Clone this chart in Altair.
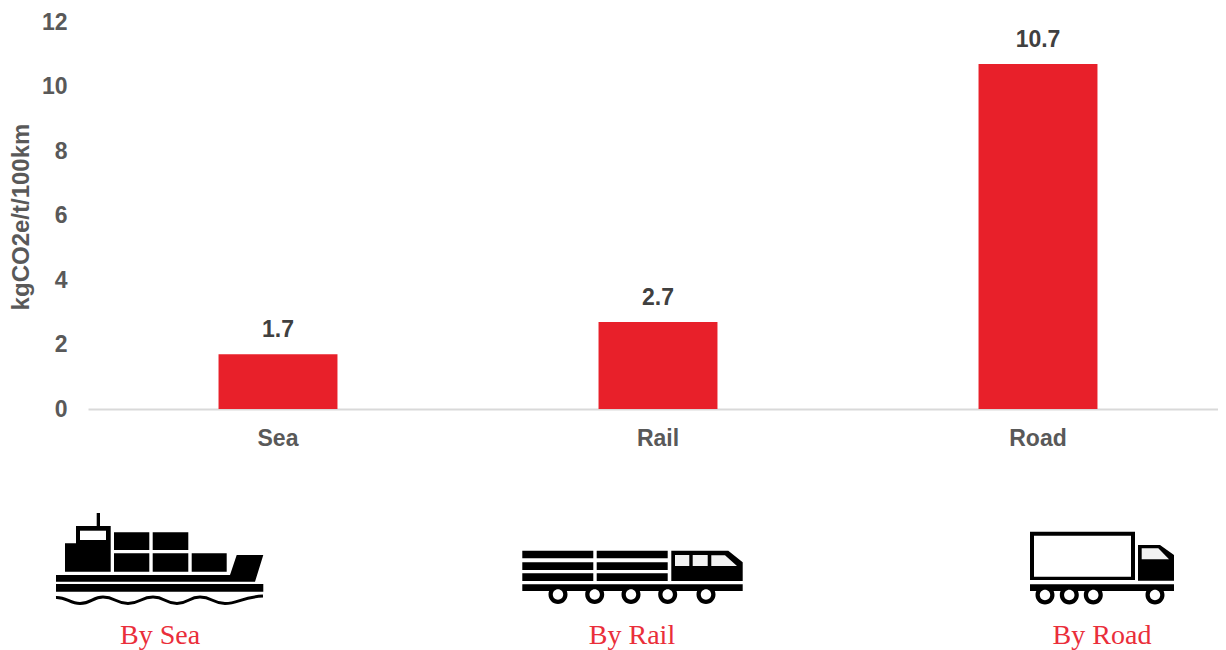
import altair as alt
import pandas as pd

categories = ["Sea", "Rail", "Road"]
values = [1.7, 2.7, 10.7]
captions = ["By Sea", "By Rail", "By Road"]
caption_x = [160, 632, 1102]

RED = "#e8202a"
SANS = "Liberation Sans"
SERIF = "Liberation Serif"
OX, OY = 88, 22  # plot origin in page pixels


def rect(x0, y0, x1, y1):
    return f"M{x0},{y0}L{x1},{y0}L{x1},{y1}L{x0},{y1}Z"


def poly(*pts):
    return "M" + "L".join(f"{x},{y}" for x, y in pts) + "Z"


def circle(cx, cy, r):
    return f"M{cx - r},{cy}A{r},{r} 0 1 1 {cx + r},{cy}A{r},{r} 0 1 1 {cx - r},{cy}Z"


ship_black = "".join([
    rect(96.7, 513, 100, 527),
    rect(76, 526, 110.7, 571.7),
    rect(65, 543.3, 76.5, 571.7),
    rect(114, 532.3, 149.3, 550),
    rect(152.7, 532.3, 188.3, 550),
    rect(114, 553.3, 149.3, 571.7),
    rect(152.7, 553.3, 188.3, 571.7),
    rect(191.7, 553.3, 226.7, 571.7),
    poly((236.7, 555), (263.3, 555), (255, 581.7), (56, 581.7), (56, 575), (230, 575)),
    rect(56, 584, 263.3, 591.7),
])
ship_white = rect(80, 530.7, 106, 540)
ship_wave = (
    "M56,597.5C66,597 70,603.5 80,603.5C91,603.5 93,597 103,597"
    "C115,597 116,603.5 128,603.5C140,603.5 141,597 153,597"
    "C165,597 165,603.5 177,603.5C188,603.5 189,597 200,597"
    "C212,597 213,603.5 225,603.5C238,603.5 242,597 263,596"
)

rail_wheels = [558, 594.7, 631, 667.7, 706]
rail_black = "".join(
    [rect(a, y0, b, y1)
     for a, b in [(522.3, 593.3), (596.7, 667.7)]
     for y0, y1 in [(550.7, 558.3), (562.3, 570), (573.3, 581)]]
    + [rect(522.3, 584.3, 742.7, 591),
       poly((671.3, 550.7), (728.3, 550.7), (742.7, 562.3), (742.7, 581), (671.3, 581))]
    + [circle(x, 594.5, 9.5) for x in rail_wheels]
)
rail_white = "".join(circle(x, 594.5, 5.2) for x in rail_wheels)
rail_glass = "".join([
    rect(675, 555, 689.3, 566),
    rect(692.7, 555, 707.7, 566),
    poly((711.3, 555.3), (725, 555.3), (737, 566), (711.3, 566)),
])

truck_wheels = [1045, 1069.3, 1093.3, 1155]
truck_black = "".join(
    [rect(1030, 531.7, 1135, 580),
     poly((1138, 545), (1160, 545), (1174, 555), (1174, 580.7), (1138, 580.7)),
     rect(1030, 584.3, 1174, 591)]
    + [circle(x, 595, 9.5) for x in truck_wheels]
)
truck_white = rect(1034, 535.7, 1131, 576.7) + "".join(circle(x, 595, 5.2) for x in truck_wheels)
truck_glass = poly((1141.7, 548.3), (1158.3, 548.3), (1169, 559.3), (1141.7, 559.3))

df = pd.DataFrame({"mode": categories, "value": values})

x = alt.X(
    "mode:N",
    sort=categories,
    title=None,
    scale=alt.Scale(paddingInner=0.687, paddingOuter=0.3435, range=[0, 1140]),
    axis=alt.Axis(
        labelAngle=0, labelFont=SANS, labelFontWeight="bold", labelFontSize=23,
        labelColor="#595959", labelPadding=18, ticks=False,
        domainColor="#d9d9d9", domainWidth=2, grid=False,
    ),
)
y = alt.Y(
    "value:Q",
    title="kgCO2e/t/100km",
    scale=alt.Scale(domain=[0, 12], nice=False),
    axis=alt.Axis(
        values=[0, 2, 4, 6, 8, 10, 12], labelFont=SANS, labelFontWeight="bold",
        labelFontSize=23, labelColor="#595959", labelPadding=21, ticks=False,
        domain=False, grid=False, titleFont=SANS, titleFontWeight="bold",
        titleFontSize=24, titleColor="#595959", titleX=-67, titleY=194.5,
        titleBaseline="middle",
    ),
)

bars = alt.Chart(df).mark_bar(color=RED).encode(x=x, y=y)
labels = alt.Chart(df).mark_text(
    font=SANS, fontWeight="bold", fontSize=23, color="#404040", dy=-24
).encode(x=x, y=y, text=alt.Text("value:Q", format=".1f"))

one = pd.DataFrame({"n": [0]})


def icon(path, fill="black", **kw):
    if fill is None:
        mark = alt.Chart(one).mark_point(shape=path, size=4, filled=False, opacity=1, **kw)
    else:
        mark = alt.Chart(one).mark_point(shape=path, size=4, filled=True, fill=fill, opacity=1, strokeWidth=0)
    return mark.encode(x=alt.value(-OX), y=alt.value(-OY))


icons = [
    icon(ship_black), icon(ship_white, "white"),
    icon(ship_wave, None, stroke="black", strokeWidth=3),
    icon(rail_black), icon(rail_white, "white"), icon(rail_glass, "#f2f2f2"),
    icon(truck_black), icon(truck_white, "white"), icon(truck_glass, "#f2f2f2"),
]

cap_text = [
    alt.Chart(pd.DataFrame({"caption": [c]})).mark_text(
        font=SERIF, fontSize=28, color="#ea2e3a", baseline="alphabetic"
    ).encode(x=alt.value(cx - OX), y=alt.value(644 - OY), text="caption:N")
    for c, cx in zip(captions, caption_x)
]

chart = alt.layer(bars, labels, *icons, *cap_text).properties(
    width=1130,
    height=387,
    background="white",
    padding={"left": 80, "top": 14, "right": 0, "bottom": 241},
    autosize=alt.AutoSizeParams(type="none"),
).configure_view(strokeWidth=0, stroke="transparent")

chart.save("out.html", embed_options={"renderer": "svg", "actions": False})
